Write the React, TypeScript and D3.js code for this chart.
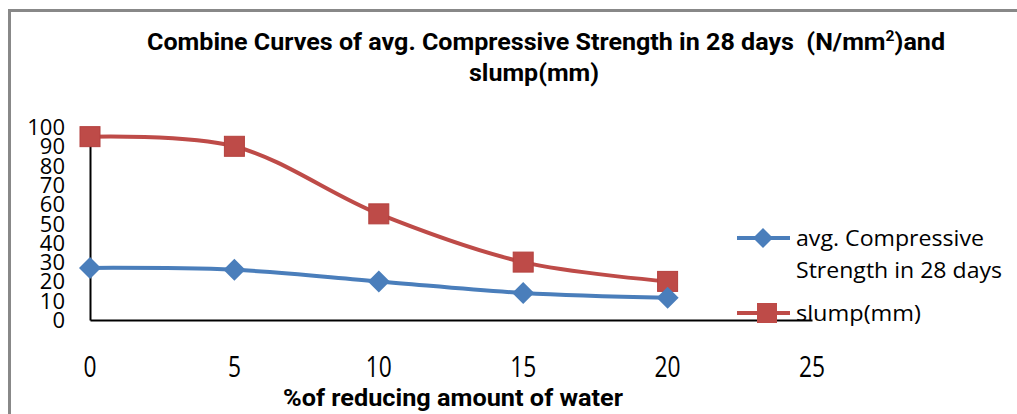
import * as d3 from "d3";
import { useEffect, useRef } from "react";

const reduction = [0, 5, 10, 15, 20];
const strength = [27, 26, 20, 14, 11.5];
const slump = [95, 90, 55, 30, 20];
const xTicks = [0, 5, 10, 15, 20, 25];
const yTicks = [0, 10, 20, 30, 40, 50, 60, 70, 80, 90, 100];

const BLUE = "#4a7ebb";
const RED = "#be4b48";

export default function App() {
  const ref = useRef<SVGSVGElement>(null);

  useEffect(() => {
    const width = 1017;
    const height = 414;
    const svg = d3.select(ref.current);
    svg.selectAll("*").remove();

    const x = d3.scaleLinear().domain([0, 25]).range([90, 812]);
    const y = d3.scaleLinear().domain([0, 100]).range([320, 127]);

    // outer frame (only top and left visible)
    svg.append("path")
      .attr("d", `M9.5,${height} V10.5 H${width}`)
      .attr("fill", "none")
      .attr("stroke", "#888")
      .attr("stroke-width", 3);

    // title, condensed to the reference width
    const bold = "Roboto, sans-serif";
    const t1 = svg.append("text")
      .attr("x", 147)
      .attr("y", 50)
      .attr("xml:space", "preserve")
      .style("white-space", "pre")
      .attr("font-family", bold)
      .attr("font-weight", "bold")
      .attr("font-size", 24)
      .attr("textLength", 798)
      .attr("lengthAdjust", "spacingAndGlyphs")
      .attr("fill", "#000");
    t1.append("tspan").text("Combine Curves of avg. Compressive Strength in 28 days  (N/mm");
    t1.append("tspan").attr("font-size", 15).attr("dy", -9).text("2");
    t1.append("tspan").attr("dy", 9).text(")and");
    svg.append("text")
      .attr("x", 469)
      .attr("y", 81)
      .attr("font-family", bold)
      .attr("font-weight", "bold")
      .attr("font-size", 24)
      .attr("textLength", 130)
      .attr("lengthAdjust", "spacingAndGlyphs")
      .attr("fill", "#000")
      .text("slump(mm)");

    // axes
    svg.append("g")
      .attr("transform", `translate(0,${y(0)})`)
      .call(d3.axisBottom(x).tickValues(xTicks).tickSize(0).tickFormat(() => ""))
      .call(g => g.select(".domain").attr("stroke", "#000").attr("stroke-width", 2));
    svg.append("g")
      .attr("transform", `translate(${x(0)},0)`)
      .call(d3.axisLeft(y).tickValues(yTicks).tickSize(0).tickFormat(() => ""))
      .call(g => g.select(".domain").attr("stroke", "#000").attr("stroke-width", 2));

    // tick labels (the reference packs them tightly, so they touch)
    svg.append("g")
      .selectAll("text")
      .data(yTicks)
      .join("text")
      .attr("x", 65)
      .attr("y", d => y(d) + 8)
      .attr("text-anchor", "end")
      .attr("font-family", "'Open Sans', sans-serif")
      .attr("font-size", 22)
      .attr("fill", "#000")
      .text(d => d);
    svg.append("g")
      .selectAll("text")
      .data(xTicks)
      .join("text")
      .attr("transform", d => `translate(${x(d)},377) scale(0.76,1)`)
      .attr("text-anchor", "middle")
      .attr("font-family", "'Open Sans', sans-serif")
      .attr("font-size", 30)
      .attr("fill", "#000")
      .text(d => d);

    svg.append("text")
      .attr("x", 283)
      .attr("y", 406)
      .attr("font-family", bold)
      .attr("font-weight", "bold")
      .attr("font-size", 24)
      .attr("textLength", 340)
      .attr("lengthAdjust", "spacingAndGlyphs")
      .attr("fill", "#000")
      .text("%of reducing amount of water");

    const line = d3.line<number>()
      .x((_, i) => x(reduction[i]))
      .y(d => y(d))
      .curve(d3.curveCatmullRom.alpha(0.5));

    const diamond = (cx: number, cy: number, r: number) =>
      `M${cx},${cy - r}L${cx + r},${cy}L${cx},${cy + r}L${cx - r},${cy}Z`;

    // slump
    svg.append("path")
      .attr("d", line(slump))
      .attr("fill", "none")
      .attr("stroke", RED)
      .attr("stroke-width", 4);
    svg.append("g")
      .selectAll("rect")
      .data(slump)
      .join("rect")
      .attr("x", (_, i) => x(reduction[i]) - 10)
      .attr("y", d => y(d) - 10)
      .attr("width", 20)
      .attr("height", 20)
      .attr("fill", RED)
      .attr("stroke", "#b4413e")
      .attr("stroke-width", 1);

    // strength
    svg.append("path")
      .attr("d", line(strength))
      .attr("fill", "none")
      .attr("stroke", BLUE)
      .attr("stroke-width", 4);
    svg.append("g")
      .selectAll("path")
      .data(strength)
      .join("path")
      .attr("d", (d, i) => diamond(x(reduction[i]), y(d), 11))
      .attr("fill", BLUE);

    // legend
    const lg = svg.append("g")
      .attr("font-family", "'Open Sans', sans-serif")
      .attr("font-size", 22)
      .attr("fill", "#000");
    lg.append("line").attr("x1", 737).attr("x2", 790).attr("y1", 238).attr("y2", 238)
      .attr("stroke", BLUE).attr("stroke-width", 4);
    lg.append("path").attr("d", diamond(763, 238, 10)).attr("fill", BLUE);
    lg.append("text").attr("x", 796).attr("y", 246).attr("textLength", 188)
      .attr("lengthAdjust", "spacingAndGlyphs").text("avg. Compressive");
    lg.append("text").attr("x", 796).attr("y", 278).attr("textLength", 206)
      .attr("lengthAdjust", "spacingAndGlyphs").text("Strength in 28 days");
    lg.append("line").attr("x1", 737).attr("x2", 790).attr("y1", 313).attr("y2", 313)
      .attr("stroke", RED).attr("stroke-width", 4);
    lg.append("rect").attr("x", 757).attr("y", 303).attr("width", 20).attr("height", 20).attr("fill", RED);
    lg.append("text").attr("x", 796).attr("y", 321).attr("textLength", 125)
      .attr("lengthAdjust", "spacingAndGlyphs").text("slump(mm)");
  }, []);

  return <svg ref={ref} width={1017} height={414} style={{ display: "block", position: "absolute", left: 0, top: 0 }} />;
}
